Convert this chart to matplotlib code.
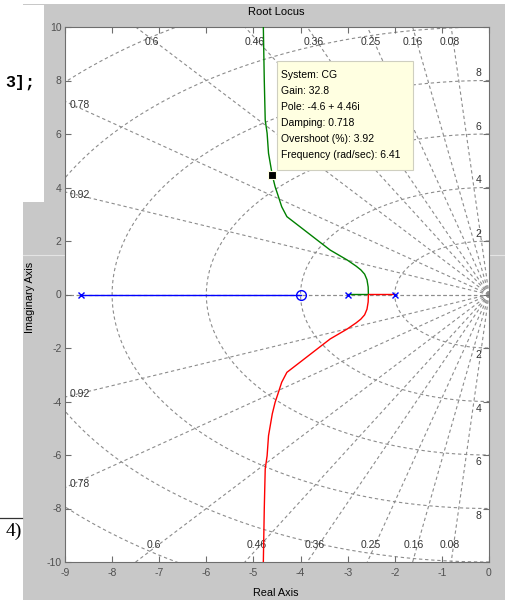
import numpy as np
import matplotlib
matplotlib.use("Agg")
import matplotlib.pyplot as plt
from matplotlib.patches import Rectangle
from matplotlib.lines import Line2D

plt.rcParams['font.family'] = ['Liberation Sans', 'DejaVu Sans']
plt.rcParams['axes.unicode_minus'] = False

# open-loop poles and zero
pole_re = [-8.66, -3.0, -2.0]
zero_re = [-4.0]

# real-axis branch: pole -8.66 -> zero -4
blue_re = [-8.66, -4.0]
blue_im = [0.0, 0.0]

# upper branch (from pole -3)
green_re = [-3.0, -2.56, -2.565, -2.59, -2.64, -2.72, -2.82, -3.01, -3.37, -3.65, -4.01, -4.29,
            -4.40, -4.47, -4.54, -4.60, -4.68, -4.71, -4.75, -4.77, -4.79]
green_im = [0.0, 0.0, 0.28, 0.55, 0.76, 0.92, 1.06, 1.29, 1.66, 2.04, 2.53, 2.91,
            3.28, 3.66, 4.03, 4.46, 5.28, 6.03, 6.52, 8.0, 10.0]

# lower branch (from pole -2)
red_re = [-2.0, -2.56, -2.565, -2.59, -2.64, -2.72, -2.82, -3.01, -3.37, -3.65, -4.01, -4.29,
          -4.40, -4.47, -4.54, -4.60, -4.68, -4.71, -4.75, -4.77, -4.79]
red_im = [0.0, 0.0, -0.28, -0.55, -0.76, -0.92, -1.06, -1.29, -1.66, -2.04, -2.53, -2.91,
          -3.28, -3.66, -4.03, -4.46, -5.28, -6.03, -6.52, -8.0, -10.0]

# sgrid
zeta_top = [0.6, 0.46, 0.36, 0.25, 0.16, 0.08]
zeta_left = [0.92, 0.78]
wn_circles = [2, 4, 6, 8, 10, 12]
wn_labels = [2, 4, 6, 8]

# data tip
tip_pole = (-4.6, 4.46)
tip_lines = ["System: CG", "Gain: 32.8", "Pole: -4.6 + 4.46i", "Damping: 0.718",
             "Overshoot (%): 3.92", "Frequency (rad/sec): 6.41"]

W, H = 506, 600
fig = plt.figure(figsize=(W / 100, H / 100), dpi=100, facecolor='white')

# grey figure panel + bits of the screenshot around it
fig.add_artist(Rectangle((23 / W, 0), 1, 1 - 4 / H, transform=fig.transFigure,
                         facecolor='#c8c8c8', edgecolor='none', zorder=-3))
fig.add_artist(Rectangle((0, 1 - 202 / H), 44 / W, 197 / H, transform=fig.transFigure,
                         facecolor='white', edgecolor='none', zorder=-2))
fig.add_artist(Line2D([23 / W, 65 / W], [1 - 255 / H] * 2, transform=fig.transFigure,
                      color='#e4e4e4', lw=0.8, zorder=-1))
fig.add_artist(Line2D([489 / W, 1], [1 - 255 / H] * 2, transform=fig.transFigure,
                      color='#e4e4e4', lw=0.8, zorder=-1))
fig.text(5 / W, 1 - 82 / H, "3];", family='Liberation Mono', weight='bold',
         size=12, va='center', ha='left')
fig.text(22 / W, 1 - 531 / H, "4)", family='Liberation Serif', size=14,
         va='center', ha='right')
fig.add_artist(Line2D([0, 22 / W], [1 - 518 / H] * 2, transform=fig.transFigure,
                      color='#333333', lw=0.9))

ax = fig.add_axes([65 / W, 38 / H, 424 / W, 535 / H])
ax.set_facecolor('white')
ax.set_xlim(-9, 0)
ax.set_ylim(-10, 10)

gc = '#8c8c8c'
gls = (0, (3, 2.5))
for z in zeta_top + zeta_left + [1.0]:
    th = np.arccos(z)
    for s in (1, -1):
        ax.plot([0, -20 * np.cos(th)], [0, s * 20 * np.sin(th)], color=gc, ls=gls, lw=0.8, zorder=1)
t = np.linspace(np.pi / 2, 3 * np.pi / 2, 300)
for wn in wn_circles:
    ax.plot(wn * np.cos(t), wn * np.sin(t), color=gc, ls=gls, lw=0.8, zorder=1)

for z in zeta_top:
    k = np.tan(np.arccos(z))
    for s in (1, -1):
        yl = 9.44 if s > 0 else -9.38
        ax.text(-abs(yl) / k - 0.08, yl, f"{z:g}", ha='center', va='center',
                size=7.5, color='#333333', zorder=2)
for z in zeta_left:
    k = np.tan(np.arccos(z))
    for s in (1, -1):
        ax.text(-8.9, s * (9 * k - 0.12), f"{z:g}", ha='left', va='center',
                size=7.5, color='#333333', zorder=2)
for wn in wn_labels:
    for s in (1, -1):
        ax.text(-0.22, s * (wn + 0.27), str(wn), ha='center', va='center',
                size=7.5, color='#333333', zorder=2)

ax.plot(blue_re, blue_im, color='#0000ff', lw=1.0, zorder=3)
ax.plot(green_re, green_im, color='#008000', lw=1.0, zorder=3)
ax.plot(red_re, red_im, color='#ff0000', lw=1.0, zorder=3)
ax.plot(pole_re, [0] * len(pole_re), 'x', color='#0000ff', ms=5, mew=1.0, zorder=4)
ax.plot(zero_re, [0] * len(zero_re), 'o', color='#0000ff', mfc='none', ms=7, mew=1.0, zorder=4)

# data tip box
ax.add_patch(Rectangle((-4.495, 4.65), 2.89, 4.08, facecolor='#ffffe1',
                       edgecolor='#cfcfc0', lw=0.8, zorder=5))
for i, s in enumerate(tip_lines):
    ax.text(-4.42, 8.21 - i * 0.598, s, ha='left', va='center', size=7.5,
            color='black', zorder=6)
ax.plot(*tip_pole, 's', color='black', ms=6, mec='#ffffe1', mew=0.8, zorder=6)

ax.set_xticks(range(-9, 1))
ax.set_yticks(range(-10, 11, 2))
ax.tick_params(direction='in', top=True, right=True, length=4, width=0.8,
               color='#6e6e6e', labelcolor='#505050', labelsize=7.5)
ax.tick_params(axis='x', pad=4)
ax.tick_params(axis='y', pad=2.5)
for sp in ax.spines.values():
    sp.set_color('#6e6e6e')
    sp.set_linewidth(0.8)

fig.text(276 / W, 1 - 12 / H, "Root Locus", ha='center', va='center', size=8)
fig.text(276 / W, 1 - 593 / H, "Real Axis", ha='center', va='center', size=7.8)
fig.text(30 / W, 1 - 297 / H, "Imaginary Axis", ha='center', va='center',
         size=7.8, rotation=90)

fig.savefig("out.png", dpi=100, facecolor=fig.get_facecolor())
